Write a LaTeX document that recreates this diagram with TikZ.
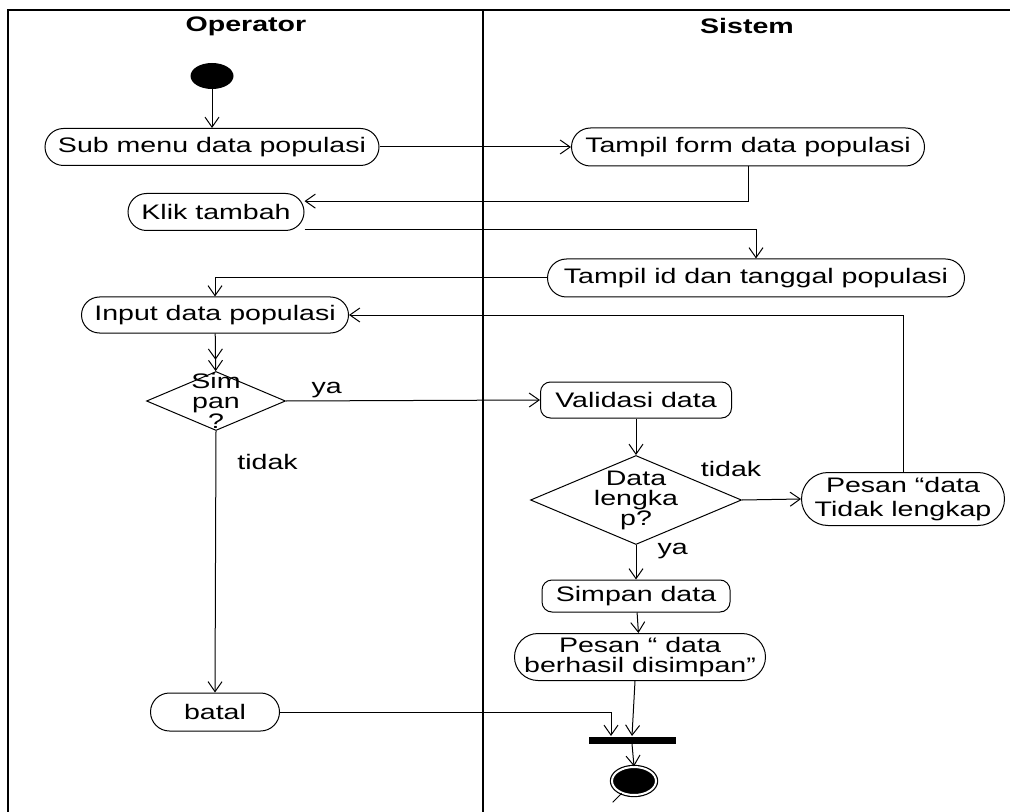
\documentclass[tikz,border=0pt]{standalone}
\usepackage{fontspec}
\setmainfont{Liberation Sans}[FakeStretch=1.36]
\usetikzlibrary{shapes.geometric,arrows.meta,positioning}

\tikzset{
  act/.style={draw, rectangle, rounded corners=9.25pt, inner sep=0pt, minimum height=18.5pt, align=center},
  box/.style={draw, rectangle, rounded corners=5pt, inner sep=0pt, minimum height=18pt},
  decision/.style={draw, diamond, inner sep=0pt},
  startnode/.style={fill, ellipse, inner sep=0pt, minimum width=21.5pt, minimum height=13pt},
  endnode/.style={draw, ellipse, fill, double=white, double distance=1pt, line width=0.6pt, inner sep=0pt, minimum width=22pt, minimum height=14pt},
  syncbar/.style={fill, rectangle, inner sep=0pt, minimum width=43.5pt, minimum height=3.5pt},
  lane/.style={font=\fontsize{10.5}{10}\selectfont\bfseries},
  lbl/.style={inner sep=1pt},
  flow/.style={->, line width=0.5pt},
}

\begin{document}
\begin{tikzpicture}[x=0.5pt, y=-0.5pt, font=\fontsize{10.5}{10}\selectfont, line width=0.5pt,
  >={Straight Barb[length=5pt,width=7pt]}]
  \useasboundingbox (0,0) rectangle (1010,812);
  \draw[line width=1pt] (1010,10) -- (8,10) -- (8,812);
  \draw[line width=1pt] (483,10) -- (483,812);
  \node[lane] (operator) at (246,26) {Operator};
  \node[lane] (sistem) at (747,26) {Sistem};

  \node[startnode] (start) at (212,76) {};
  \node[act, minimum width=167pt] (sub) at (212,147) {Sub menu data populasi};
  \node[act, minimum width=176.5pt, minimum height=19pt, rounded corners=9.5pt] (tform) at (748,147) {Tampil form data populasi};
  \node[act, minimum width=88pt] (klik) at (216,212) {Klik tambah};
  \node[act, minimum width=208.5pt, minimum height=19pt, rounded corners=9.5pt] (tid) at (756,278) {Tampil id dan tanggal populasi};
  \node[act, minimum width=133.5pt, minimum height=18pt, rounded corners=9pt] (input) at (215,315) {Input data populasi};
  \node[decision, minimum width=69.5pt, minimum height=29.5pt, label={[align=center]center:Sim\\pan\\?}] (simpan) at (216,401) {};
  \node[box, minimum width=95.5pt] (valid) at (636,400) {Validasi data};
  \node[decision, minimum width=105.5pt, minimum height=44.5pt, label={[align=center]center:Data\\lengka\\p?}] (lengkap) at (636,500) {};
  \node[act, minimum width=101.5pt, minimum height=26.5pt, rounded corners=13.25pt, font=\fontsize{10.5}{12}\selectfont] (pesantl) at (903,499) {Pesan “data\\Tidak lengkap};
  \node[box, minimum width=94pt, minimum height=16pt] (simpandata) at (636,596) {Simpan data};
  \node[act, minimum width=125.5pt, minimum height=23.5pt, rounded corners=11.75pt] (berhasil) at (640,657) {Pesan “ data\\berhasil disimpan”};
  \node[act, minimum width=64.5pt, minimum height=19pt, rounded corners=9.5pt] (batal) at (215,712) {batal};
  \node[syncbar] (bar) at (632,740) {};
  \node[endnode] (final) at (634,781) {};

  \draw[flow] (start) -- (sub);
  \draw[flow] (sub) -- (tform);
  \draw[flow] (tform.south) |- (klik.7);
  \draw[flow] (klik.-11) -| (tid.north);
  \draw[flow] (tid.west) -| (input.north);
  \draw[flow] (pesantl.north) |- (input.east);
  \draw[->>] (input) -- (simpan);
  \draw[flow] (simpan.east) -- node[lbl, above, pos=0.16] {ya} (valid.west);
  \draw[flow] (simpan.south) -- node[lbl, right=9.5pt, pos=0.12] {tidak} (batal.north);
  \draw[flow] (valid) -- (lengkap);
  \draw[flow] (lengkap.east) -- node[lbl, pos=0, xshift=-5.5pt, yshift=15.5pt] {tidak} (pesantl.west);
  \draw[flow] (lengkap.south) -- node[lbl, right=9.5pt, pos=0.17] {ya} (simpandata.north);
  \draw[flow] (simpandata) -- (berhasil);
  \draw[flow] (batal.east) -| ([xshift=-10.5pt]bar.north);
  \draw[flow] ([xshift=-2.5pt]berhasil.south) -- (bar.north);
  \draw[flow] (bar.south) -- (final.north);
  \draw (final.225) -- ++(-9,9);
\end{tikzpicture}
\end{document}
